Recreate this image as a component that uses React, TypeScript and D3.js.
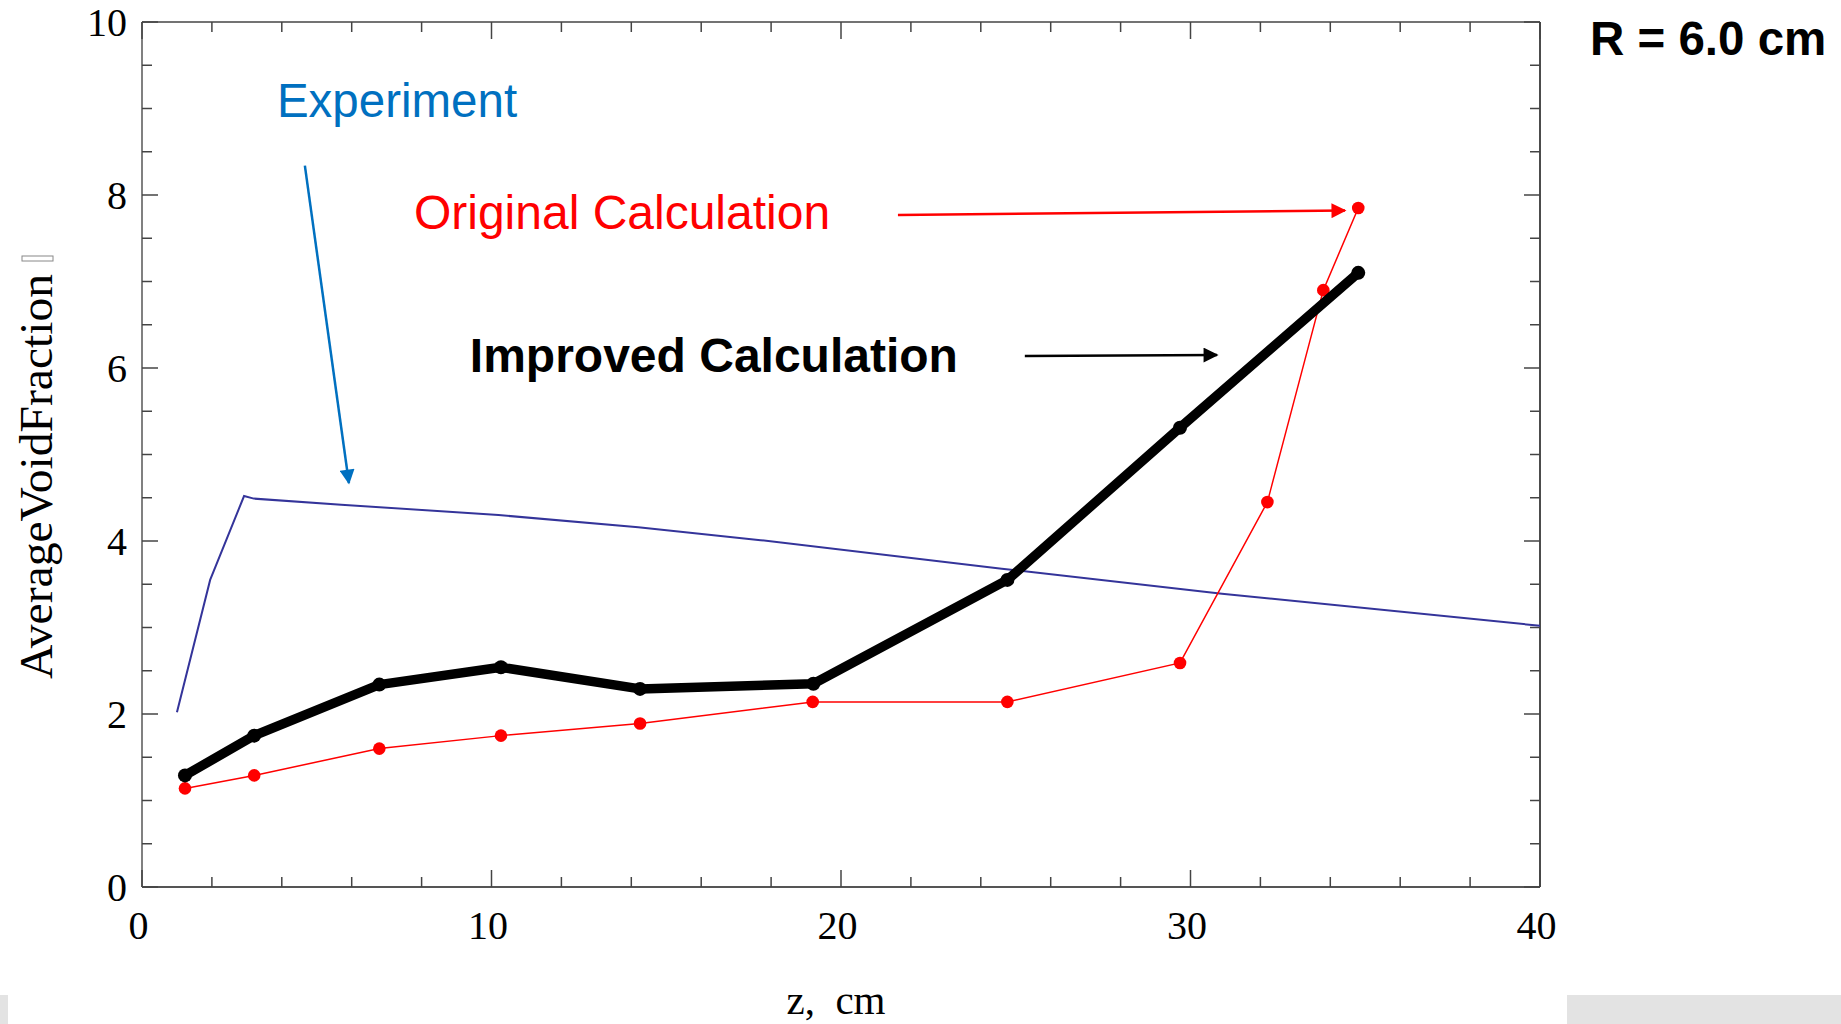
import React from 'react';
import * as d3 from 'd3';

// readings taken off the reference chart
const zImproved = [1.23, 3.21, 6.79, 10.27, 14.25, 19.21, 24.76, 29.7, 34.8];
const vImproved = [1.29, 1.75, 2.34, 2.54, 2.29, 2.35, 3.55, 5.31, 7.1];

const zOriginal = [1.23, 3.21, 6.79, 10.27, 14.25, 19.19, 24.76, 29.7, 32.2, 33.8, 34.8];
const vOriginal = [1.14, 1.29, 1.6, 1.75, 1.89, 2.14, 2.14, 2.59, 4.45, 6.9, 7.85];

const zExperiment = [1.0, 1.95, 2.92, 3.2, 5.7, 10.2, 14.2, 17.7, 24.6, 30.9, 40];
const vExperiment = [2.02, 3.55, 4.52, 4.49, 4.42, 4.3, 4.16, 4.01, 3.68, 3.39, 3.02];

const xTickLabels = ['0', '10', '20', '30', '40'];
const yTickLabels = ['0', '2', '4', '6', '8', '10'];

// annotation anchors in data units: [x1, y1, x2, y2]
const arrowExperiment = [4.66, 8.34, 5.92, 4.67];
const arrowOriginal = [21.63, 7.77, 34.42, 7.82];
const arrowImproved = [25.26, 6.14, 30.76, 6.15];

const W = 1841;
const H = 1024;
const margin = { left: 142, right: 301, top: 22, bottom: 137 };

const SERIF = '"Liberation Serif", "Times New Roman", serif';
const SANS = '"Liberation Sans", Arial, sans-serif';

export default function App() {
  const x = d3.scaleLinear().domain([0, 40]).range([margin.left, W - margin.right]);
  const y = d3.scaleLinear().domain([0, 10]).range([H - margin.bottom, margin.top]);

  const line = d3.line<[number, number]>()
    .x(d => x(d[0]))
    .y(d => y(d[1]));

  const improved = zImproved.map((z, i) => [z, vImproved[i]] as [number, number]);
  const original = zOriginal.map((z, i) => [z, vOriginal[i]] as [number, number]);
  const experiment = zExperiment.map((z, i) => [z, vExperiment[i]] as [number, number]);

  const x0 = x(0), x1 = x(40), y0 = y(0), y1 = y(10);
  const xTicks = d3.range(0, 41, 2);
  const yTicks = d3.range(0, 10.01, 0.5);

  const arrow = (a: number[], color: string, id: string) => (
    <line
      x1={x(a[0])} y1={y(a[1])} x2={x(a[2])} y2={y(a[3])}
      stroke={color} strokeWidth={2.5} markerEnd={`url(#${id})`}
    />
  );

  return (
    <svg
      width={W}
      height={H}
      style={{ position: 'absolute', left: 0, top: 0, display: 'block', background: '#fff' }}
    >
      <defs>
        {[['headBlue', '#0070C0'], ['headRed', '#ff0000'], ['headBlack', '#000']].map(([id, c]) => (
          <marker key={id} id={id} viewBox="0 0 10 10" refX="9" refY="5"
            markerWidth="17" markerHeight="15" markerUnits="userSpaceOnUse" orient="auto">
            <path d="M0,0 L10,5 L0,10 z" fill={c} />
          </marker>
        ))}
      </defs>

      {/* frame */}
      <line x1={x0} y1={y0} x2={x0} y2={y1} stroke="#808080" strokeWidth={2} />
      <line x1={x0} y1={y0} x2={x1} y2={y0} stroke="#555" strokeWidth={2} />
      <line x1={x0} y1={y1} x2={x1} y2={y1} stroke="#444" strokeWidth={1.5} />
      <line x1={x1} y1={y0} x2={x1} y2={y1} stroke="#111" strokeWidth={1.5} />

      {/* x ticks, bottom and top */}
      {xTicks.map(t => {
        const len = t % 10 === 0 ? 17 : 10;
        return (
          <g key={'xt' + t}>
            <line x1={x(t)} x2={x(t)} y1={y0} y2={y0 - len} stroke="#444" strokeWidth={1.5} />
            <line x1={x(t)} x2={x(t)} y1={y1} y2={y1 + len} stroke="#444" strokeWidth={1.5} />
          </g>
        );
      })}
      {/* y ticks, left and right */}
      {yTicks.map(t => {
        const len = Math.abs(t % 2) < 1e-6 ? 16 : 10;
        return (
          <g key={'yt' + t}>
            <line x1={x0} x2={x0 + len} y1={y(t)} y2={y(t)} stroke="#444" strokeWidth={1.5} />
            <line x1={x1} x2={x1 - len} y1={y(t)} y2={y(t)} stroke="#444" strokeWidth={1.5} />
          </g>
        );
      })}

      {xTickLabels.map(s => (
        <text key={'xl' + s} x={x(+s) - 3.5} y={y0 + 52}
          textAnchor="middle" fontFamily={SERIF} fontSize={40} fill="#000">{s}</text>
      ))}
      {yTickLabels.map(s => (
        <text key={'yl' + s} x={x0 - 15} y={y(+s) + 14}
          textAnchor="end" fontFamily={SERIF} fontSize={40} fill="#000">{s}</text>
      ))}

      {/* axis titles */}
      <text x={836} y={1014} textAnchor="middle" fontFamily={SERIF} fontSize={41}
        style={{ whiteSpace: 'pre' }}>{'z,  cm'}</text>
      <text transform="translate(52,679) rotate(-90)" fontFamily={SERIF} fontSize={46}
        textLength={405} lengthAdjust="spacingAndGlyphs">AverageVoidFraction</text>
      <rect x={22} y={256} width={31} height={5} fill="none" stroke="#888" strokeWidth={1} />

      {/* experiment */}
      <path d={line(experiment) ?? ''} fill="none" stroke="#34349a" strokeWidth={2} />

      {/* original calculation */}
      <path d={line(original) ?? ''} fill="none" stroke="#ff0000" strokeWidth={1.5} />
      {original.map((d, i) => (
        <circle key={'o' + i} cx={x(d[0])} cy={y(d[1])} r={6.3} fill="#ff0000" />
      ))}

      {/* improved calculation */}
      <path d={line(improved) ?? ''} fill="none" stroke="#000" strokeWidth={9.5} strokeLinejoin="round" />
      {improved.map((d, i) => (
        <circle key={'m' + i} cx={x(d[0])} cy={y(d[1])} r={7} fill="#000" />
      ))}

      {/* annotations */}
      <text x={x(3.86)} y={y(8.9)} fontFamily={SANS} fontSize={47.5} fill="#0070C0">Experiment</text>
      {arrow(arrowExperiment, '#0070C0', 'headBlue')}
      <text x={x(7.78)} y={y(7.61)} fontFamily={SANS} fontSize={48} fill="#ff0000">Original Calculation</text>
      {arrow(arrowOriginal, '#ff0000', 'headRed')}
      <text x={x(9.38)} y={y(5.95)} fontFamily={SANS} fontSize={48} fontWeight="bold" fill="#000">Improved Calculation</text>
      {arrow(arrowImproved, '#000', 'headBlack')}

      <text x={1590} y={55} fontFamily={SANS} fontSize={47.5} fontWeight="bold" fill="#000">R = 6.0 cm</text>

      {/* slide remnants at the bottom edge */}
      <rect x={0} y={995} width={8} height={29} fill="#e3e3e3" />
      <rect x={1567} y={995} width={274} height={29} fill="#e3e3e3" />
    </svg>
  );
}
